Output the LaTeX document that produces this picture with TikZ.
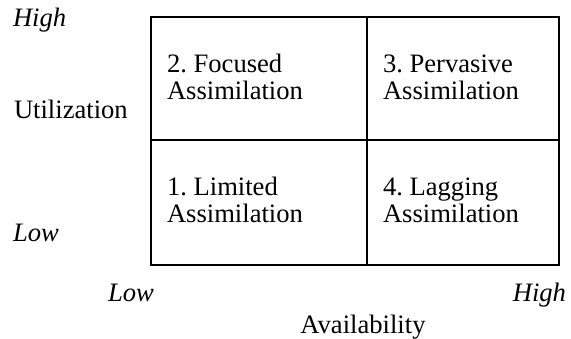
\documentclass[tikz,border=0pt]{standalone}
\usepackage{fontspec}
\setmainfont{Liberation Serif}
\usetikzlibrary{positioning}
\frenchspacing
\begin{document}
\begin{tikzpicture}[x=0.5pt,y=-0.5pt,line width=1pt,
  every node/.style={inner sep=0pt,font=\fontsize{13.3}{13.5}\selectfont},
  cell/.style={anchor=base west,align=left},
  level/.style={font=\fontsize{13.3}{13.5}\selectfont\itshape}]
  \useasboundingbox (0,0) rectangle (571,338);
  %draw quadrants
    \draw (151,17) rectangle (559,265);
    \draw (367,17) -- (367,265) (151,140) -- (559,140);
  %insert quadrant names
    \node[cell] (focused) at (166,99) {2. Focused\\Assimilation};
    \node[cell] (pervasive) at (382,99) {3. Pervasive\\Assimilation};
    \node[cell] (limited) at (166,222) {1. Limited\\Assimilation};
    \node[cell] (lagging) at (382,222) {4. Lagging\\Assimilation};
  %insert axis labels
    \node[anchor=base west] (util) at (13,118) {Utilization};
    \node[level,anchor=base west] (uhigh) at (12,26) {High};
    \node[level,anchor=base west] (ulow) at (12,241) {Low};
    \node[anchor=base] (avail) at (363,333) {Availability};
    \node[level,anchor=base west] (alow) at (107,301) {Low};
    \node[level,anchor=base east] (ahigh) at (567,301) {High};
\end{tikzpicture}
\end{document}
